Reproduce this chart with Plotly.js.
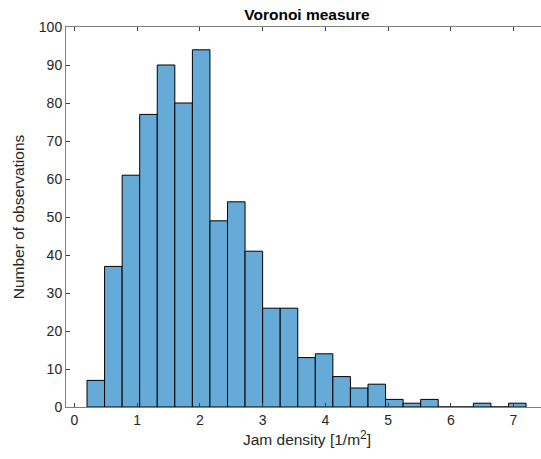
<!DOCTYPE html>
<html>
<head>
<meta charset="utf-8">
<script src="https://cdn.plot.ly/plotly-3.0.1.min.js"></script>
<style>
html,body{margin:0;padding:0;overflow:hidden;background:#fff;width:541px;height:459px;}
#chart{width:548px;height:459px;}
</style>
</head>
<body>
<div id="chart"></div>
<script>
// Histogram data (bin start, bin width, counts per bin)
var binStart = 0.2;
var binWidth = 0.28;
var counts = [7, 37, 61, 77, 90, 80, 94, 49, 54, 41, 26, 26, 13, 14, 8, 5, 6, 2, 1, 2, 0, 0, 1, 0, 1];
var xTicks = [0, 1, 2, 3, 4, 5, 6, 7];
var yTicks = [0, 10, 20, 30, 40, 50, 60, 70, 80, 90, 100];

var centers = counts.map(function (c, i) { return binStart + binWidth * (i + 0.5); });

var FONT = 'Liberation Sans, Arial, sans-serif';

var trace = {
  type: 'bar',
  x: centers,
  y: counts,
  width: counts.map(function () { return binWidth; }),
  marker: { color: 'rgb(102,170,215)', line: { color: '#000000', width: 1 } },
  hoverinfo: 'x+y'
};

var axisCommon = {
  showgrid: false,
  zeroline: false,
  showline: true,
  linecolor: '#7f7f7f',
  linewidth: 1,
  mirror: 'ticks',
  ticks: 'inside',
  ticklen: 4,
  tickwidth: 1,
  tickcolor: '#404040',
  tickfont: { family: FONT, size: 14, color: '#262626' }
};

var layout = {
  width: 548,
  height: 459,
  margin: { l: 66, r: 0, t: 27, b: 52 },
  paper_bgcolor: '#ffffff',
  plot_bgcolor: '#ffffff',
  bargap: 0,
  showlegend: false,
  title: {
    text: '<b>Voronoi measure</b>',
    font: { family: FONT, size: 15.5, color: '#000000' },
    x: 0.5, xref: 'paper', y: 0.969, yref: 'container', xanchor: 'center', yanchor: 'middle'
  },
  xaxis: Object.assign({}, axisCommon, {
    range: [-0.135, 7.55],
    tickvals: xTicks,
    ticktext: xTicks.map(String),
    title: { text: 'Jam density [1/m<sup><span style="font-size:12px">2</span></sup>]', font: { family: FONT, size: 15.5, color: '#262626' }, standoff: 6 }
  }),
  yaxis: Object.assign({}, axisCommon, {
    range: [0, 100],
    tickvals: yTicks,
    ticktext: yTicks.map(String),
    title: { text: 'Number of observations', font: { family: FONT, size: 15.5, color: '#262626' }, standoff: 10 }
  })
};

Plotly.newPlot('chart', [trace], layout, { displayModeBar: false, staticPlot: true });
</script>
</body>
</html>
